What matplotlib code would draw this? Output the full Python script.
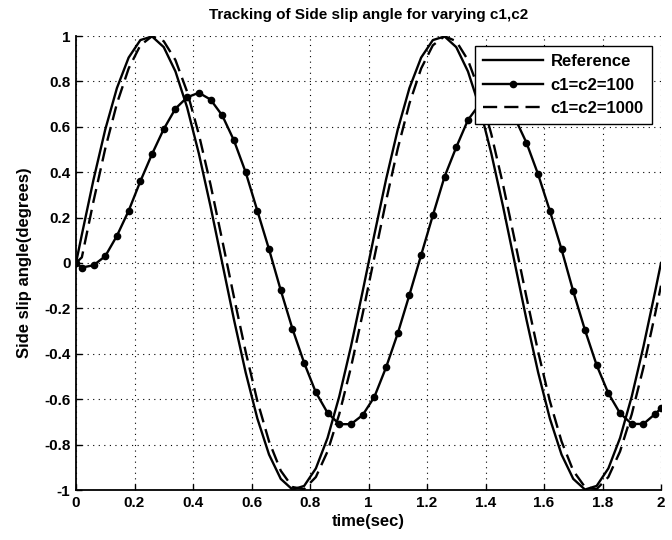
import matplotlib
matplotlib.use('Agg')
import matplotlib.pyplot as plt

plt.rcParams['font.family'] = ['Liberation Sans', 'DejaVu Sans']
plt.rcParams['font.weight'] = 'bold'
plt.rcParams['axes.unicode_minus'] = False

# sample times (s)
t = [0, 0.02, 0.06, 0.10, 0.14, 0.18, 0.22, 0.26, 0.30, 0.34, 0.38, 0.42, 0.46,
     0.50, 0.54, 0.58, 0.62, 0.66, 0.70, 0.74, 0.78, 0.82, 0.86, 0.90, 0.94, 0.98,
     1.02, 1.06, 1.10, 1.14, 1.18, 1.22, 1.26, 1.30, 1.34, 1.38, 1.42, 1.46,
     1.50, 1.54, 1.58, 1.62, 1.66, 1.70, 1.74, 1.78, 1.82, 1.86, 1.90, 1.94, 1.98, 2.00]

# reference side slip angle
ref = [0, 0.125, 0.368, 0.588, 0.771, 0.905, 0.982, 0.998, 0.951, 0.844, 0.685, 0.482, 0.249,
       0.0, -0.249, -0.482, -0.685, -0.844, -0.951, -0.998, -0.982, -0.905, -0.771, -0.588, -0.368, -0.125,
       0.125, 0.368, 0.588, 0.771, 0.905, 0.982, 0.998, 0.951, 0.844, 0.685, 0.482, 0.249,
       0.0, -0.249, -0.482, -0.685, -0.844, -0.951, -0.998, -0.982, -0.905, -0.771, -0.588, -0.368, -0.125, 0.0]

# c1=c2=100
c100 = [0, -0.02, -0.01, 0.03, 0.12, 0.23, 0.36, 0.48, 0.59, 0.68, 0.73, 0.75, 0.72,
        0.65, 0.54, 0.40, 0.23, 0.06, -0.12, -0.29, -0.44, -0.57, -0.66, -0.71, -0.71, -0.67,
        -0.59, -0.46, -0.31, -0.14, 0.035, 0.21, 0.38, 0.51, 0.63, 0.70, 0.72, 0.70,
        0.64, 0.53, 0.39, 0.23, 0.06, -0.125, -0.295, -0.45, -0.574, -0.662, -0.709, -0.709, -0.665, -0.64]

# c1=c2=1000
c1000 = [0, 0.025, 0.273, 0.504, 0.703, 0.857, 0.959, 0.999, 0.977, 0.894, 0.754, 0.567, 0.345,
         0.100, -0.150, -0.391, -0.608, -0.786, -0.915, -0.987, -0.996, -0.943, -0.830, -0.666, -0.460, -0.224,
         0.025, 0.273, 0.504, 0.703, 0.857, 0.959, 0.999, 0.977, 0.894, 0.754, 0.567, 0.345,
         0.100, -0.150, -0.391, -0.608, -0.786, -0.915, -0.987, -0.996, -0.943, -0.830, -0.666, -0.460, -0.224, -0.100]

xticks = [0, 0.2, 0.4, 0.6, 0.8, 1.0, 1.2, 1.4, 1.6, 1.8, 2.0]
xlabels = ['0', '0.2', '0.4', '0.6', '0.8', '1', '1.2', '1.4', '1.6', '1.8', '2']
yticks = [-1, -0.8, -0.6, -0.4, -0.2, 0, 0.2, 0.4, 0.6, 0.8, 1]
ylabels = ['-1', '-0.8', '-0.6', '-0.4', '-0.2', '0', '0.2', '0.4', '0.6', '0.8', '1']

fig = plt.figure(figsize=(6.72, 5.40), dpi=100)
ax = fig.add_axes([76 / 672, 1 - 490 / 540, 585 / 672, 454 / 540])

ax.plot(t, ref, color='black', lw=1.7, label='Reference')
ax.plot(t, c100, color='black', lw=1.7, marker='o', ms=4.5, label='c1=c2=100')
ax.plot(t, c1000, color='black', lw=1.7, ls=(0, (6, 3)), label='c1=c2=1000')

ax.set_xlim(0, 2)
ax.set_ylim(-1, 1)
ax.set_xticks(xticks)
ax.set_xticklabels(xlabels)
ax.set_yticks(yticks)
ax.set_yticklabels(ylabels)
ax.tick_params(direction='in', length=4, width=1, labelsize=11, colors='black', pad=4)
for lab in ax.get_xticklabels() + ax.get_yticklabels():
    lab.set_fontweight('bold')

ax.grid(True, color='black', ls=(0, (1, 4)), lw=0.8)
ax.spines['top'].set_visible(False)
ax.spines['right'].set_visible(False)
ax.spines['left'].set_linewidth(1.3)
ax.spines['bottom'].set_linewidth(1.3)

ax.set_title('Tracking of Side slip angle for varying c1,c2', fontsize=11, fontweight='bold', pad=12)
ax.set_xlabel('time(sec)', fontsize=12, fontweight='bold', labelpad=3)
ax.set_ylabel('Side slip angle(degrees)', fontsize=12, fontweight='bold', labelpad=9)

leg = ax.legend(loc='upper right', bbox_to_anchor=(0.985, 0.978), fontsize=12,
                handlelength=3.6, frameon=True, fancybox=False, borderpad=0.5,
                labelspacing=0.5, handletextpad=0.45, borderaxespad=0, framealpha=1)
leg.get_frame().set_edgecolor('black')
leg.get_frame().set_linewidth(1.0)
for txt in leg.get_texts():
    txt.set_fontweight('bold')

fig.savefig('out.png', dpi=100)
